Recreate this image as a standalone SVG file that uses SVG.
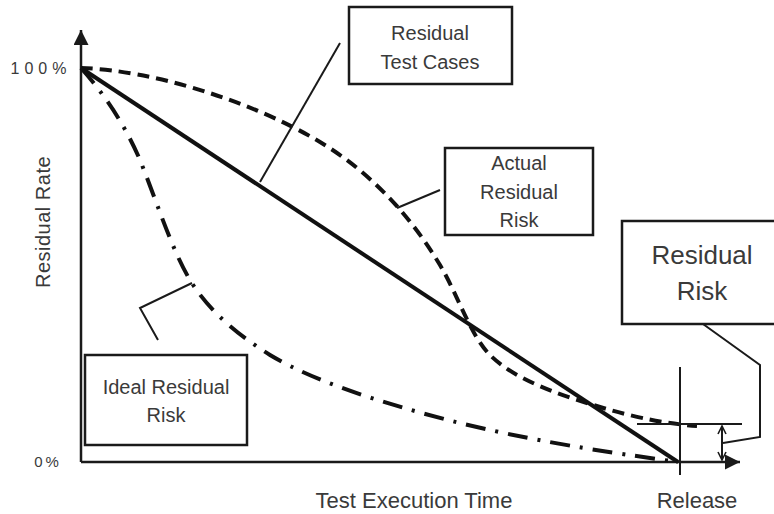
<svg xmlns="http://www.w3.org/2000/svg" width="774" height="514" viewBox="0 0 774 514">
  <style>
    text { font-family: "Liberation Sans", Arial, sans-serif; fill: #3a3a3a; text-anchor: middle; }
    .box { fill: #fff; stroke: #1a1a1a; stroke-width: 2.5; }
    .axis { stroke: #1a1a1a; stroke-width: 2.5; fill: none; }
    .thin { stroke: #1a1a1a; stroke-width: 2; fill: none; }
    .planned { stroke: #111; stroke-width: 4; fill: none; }
    .actual { stroke: #111; stroke-width: 4; fill: none; stroke-dasharray: 12 7; }
    .ideal { stroke: #111; stroke-width: 4; fill: none; stroke-dasharray: 20 10 3 10; }
  </style>
  <defs>
    <marker id="head" viewBox="0 0 10 10" refX="10" refY="5" markerWidth="6" markerHeight="6" markerUnits="strokeWidth" orient="auto">
      <path d="M0,0 L10,5 L0,10 Z" fill="#1a1a1a"/>
    </marker>
    <marker id="chev" viewBox="0 0 10 10" refX="9" refY="5" markerWidth="5" markerHeight="5" markerUnits="strokeWidth" orient="auto-start-reverse">
      <path d="M1,1 L9,5 L1,9" fill="none" stroke="#1a1a1a" stroke-width="1.6"/>
    </marker>
  </defs>

  <rect width="774" height="514" fill="#fff"/>

  <!-- axes -->
  <g id="axes">
    <path class="axis" d="M81,462 L81,30" marker-end="url(#head)"/>
    <path class="axis" d="M81,462 L740,462" marker-end="url(#head)"/>
    <text x="41" y="74" font-size="16" letter-spacing="5">100%</text>
    <text x="48" y="467" font-size="15" letter-spacing="3">0%</text>
    <text transform="translate(50,222) rotate(-90)" font-size="20" letter-spacing="0.5">Residual Rate</text>
    <text x="414" y="508" font-size="22">Test Execution Time</text>
    <text x="697" y="508" font-size="22">Release</text>
  </g>

  <!-- curves, release marker and leader lines -->
  <g id="connectors">
    <path class="planned" d="M81,68 L678,462"/>
    <path class="actual" d="M81,68 C150,70 250,100 320,142 C370,172 410,215 440,265 C458,295 470,335 490,355 C515,380 560,395 600,407 C640,419 670,424 697,426"/>
    <path class="ideal" d="M81,68 C105,95 125,125 140,160 C158,205 172,250 190,280 C205,305 230,330 270,355 C320,385 400,408 460,423 C550,445 630,455 678,462"/>

    <path class="thin" d="M680,367 L680,475"/>
    <path class="thin" d="M637,424 L742,424"/>
    <path class="thin" d="M722,426 L722,460" marker-start="url(#chev)" marker-end="url(#chev)"/>

    <path class="thin" d="M340,43 L260,182"/>
    <path class="thin" d="M440,190 L397,208"/>
    <path class="thin" d="M158,340 L140,308 L192,283"/>
    <path class="thin" d="M703,324 L760,365 L760,437 L723,443"/>
  </g>

  <g id="residual-test-cases">
    <rect class="box" x="349" y="7" width="163" height="77"/>
    <text x="430" y="40" font-size="20">Residual</text>
    <text x="430" y="69" font-size="20">Test Cases</text>
  </g>

  <g id="actual-residual-risk">
    <rect class="box" x="445" y="148" width="148" height="87"/>
    <text x="519" y="170" font-size="20">Actual</text>
    <text x="519" y="199" font-size="20">Residual</text>
    <text x="519" y="227" font-size="20">Risk</text>
  </g>

  <g id="ideal-residual-risk">
    <rect class="box" x="85" y="355" width="162" height="90"/>
    <text x="166" y="394" font-size="20">Ideal Residual</text>
    <text x="166" y="422" font-size="20">Risk</text>
  </g>

  <g id="residual-risk">
    <rect class="box" x="622" y="221" width="160" height="103"/>
    <text x="702" y="264" font-size="26">Residual</text>
    <text x="702" y="300" font-size="26">Risk</text>
  </g>
</svg>
